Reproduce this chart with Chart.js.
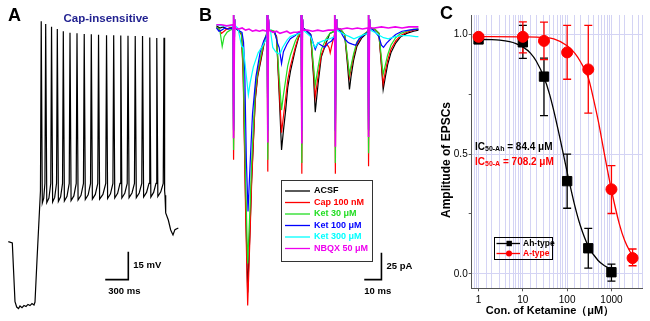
<!DOCTYPE html>
<html>
<head>
<meta charset="utf-8">
<script src="https://cdn.jsdelivr.net/npm/chart.js@4.4.1/dist/chart.umd.min.js"></script>
<style>
  html, body { margin: 0; padding: 0; background: #fff; }
  #wrap { position: relative; width: 650px; height: 321px; overflow: hidden; }
  canvas { position: absolute; top: 0; }
</style>
</head>
<body>
<div id="wrap">
  <canvas id="chartA" width="195" height="321" style="left:0"></canvas>
  <canvas id="chartB" width="237" height="321" style="left:195px"></canvas>
  <canvas id="chartC" width="218" height="321" style="left:432px"></canvas>
</div>
<script>
const COLORS = {
  black: "#000000",
  red: "#ff0000",
  green: "#22dd22",
  blue: "#0000ff",
  cyan: "#00ffff",
  magenta: "#ee00ee",
  navy: "#1f1f8f",
  grid: "#d4d4f4",
  axis: "#555555",
};

// ---------- panel A : membrane potential (ms, mV)
const TRACE_A = [
  [4, -77.5], [56, -78.2], [72, -92.8], [91, -109.9], [113, -112.8], [137, -113.6],
  [156, -112.2], [182, -113.1], [208, -112], [234, -112.5], [260, -111.4], [286, -112],
  [312, -110.9], [338, -111.7], [351, -110.1], [377, -87.4], [410, -60], [422, -50],
  // spike train: peak, AHP trough, mid ISI, pre-threshold
  [432, 41.5], [446, -56.6], [464, -54.1], [480, -46],
  [490, 40.1], [504, -56.4], [532, -53.9], [556, -46],
  [566, 38.6], [580, -56.1], [607, -53.6], [631, -46],
  [641, 37.3], [655, -55.8], [684, -53.3], [709, -46],
  [719, 36.1], [733, -55.5], [767, -53], [796, -46],
  [806, 35.3], [820, -55.3], [856, -52.8], [887, -46],
  [897, 35.0], [911, -55], [949, -52.5], [981, -46],
  [991, 34.6], [1005, -54.7], [1042, -52.2], [1073, -46],
  [1083, 34.5], [1097, -54.5], [1135, -52], [1167, -46],
  [1177, 34.3], [1191, -54.5], [1234, -52], [1271, -46],
  [1281, 33.9], [1295, -54.2], [1332, -51.7], [1364, -46],
  [1374, 34.0], [1388, -53.9], [1425, -51.4], [1456, -46],
  [1466, 33.8], [1480, -53.9], [1518, -51.4], [1550, -46],
  [1560, 33.7], [1574, -53.7], [1612, -51.2], [1644, -46],
  [1654, 33.6], [1668, -53.7], [1706, -51.2], [1739, -46],
  [1749, 33.6], [1763, -53.4], [1801, -50.9], [1833, -46],
  [1843, 32.7], [1857, -53.4], [1893, -50.9], [1924, -46],
  [1934, 32.5], [1948, -53.1], [1986, -50.6], [2018, -46],
  [2028, 32.6], [2036, -50], [2041, -52.5], [2050, -62], [2084, -65.8],
  [2115, -71.2], [2145, -73.9], [2170, -71], [2214, -70.1],
];
const SCALE_A = [[1264, -98], [1564, -98], [1564, -83]]; // 300 ms, 15 mV

// ---------- panel B : evoked EPSCs (ms, pA)
const LABELS_B = ["ACSF", "Cap 100 nM", "Ket 30 \u03bcM", "Ket 100 \u03bcM", "Ket 300 \u03bcM", "NBQX 50 \u03bcM"];
const COLORS_B = [COLORS.black, COLORS.red, COLORS.green, COLORS.blue, COLORS.cyan, COLORS.magenta];

const ACSF = [
  [0, 2], [2, 0], [4, 1], [6, -1], [8, 0], [9.7, 0],
  [9.8, 12], [10.2, -95], [10.6, 8], [11, 0],
  [12.5, -2], [14.6, -6], [15.6, -40], [17, -160], [18.2, -245], [19.6, -185], [20.5, -140],
  [22.6, -67], [24, -45], [25.9, -30], [27.8, -14], [29.4, -6],
  [29.5, 12], [29.9, -95], [30.3, 8], [30.7, -2],
  [32, -3], [33.5, -4], [35, -8], [36.5, -60], [37.9, -113], [39, -95], [40.3, -76],
  [41.5, -55], [43.1, -40], [45.9, -20], [47.8, -9], [49.2, -4],
  [49.3, 12], [49.7, -95], [50.1, 8], [50.5, 0],
  [52, -2], [54.8, -6], [56.5, -45], [57.5, -78], [59.2, -51], [61, -27], [63.8, -14], [66, -5], [68.7, -3],
  [68.8, 12], [69.2, -95], [69.6, 8], [70, 0],
  [72, -1], [74.6, -6], [76.3, -35], [77.4, -57], [78.3, -45], [79.8, -30], [81.7, -17], [84.6, -9], [87.4, -5], [88.2, -3],
  [88.3, 12], [88.7, -95], [89.1, 8], [89.5, 0],
  [92, -1], [94.5, -5], [96, -35], [97, -57], [98.3, -45], [99.6, -34], [101.5, -23], [104.3, -14],
  [107.2, -8], [110.7, -5], [114.7, -3], [117.5, -2],
];
const CAP_100 = [
  [0, 1], [1.8, -2], [3, -5], [4.5, -3], [6, -1], [8, 0], [9.7, -1],
  [9.8, 12], [10.2, -122], [10.6, 8], [11, 0],
  [12.5, -2], [14.6, -6], [15.6, -45], [17, -170], [18.2, -257], [19.6, -190], [20.5, -144],
  [22.6, -65], [24, -44], [25.9, -28], [27.8, -13], [29.4, -5],
  [29.5, 12], [29.9, -133], [30.3, 8], [30.7, -2],
  [32, -3], [33.5, -3], [35, -8], [36.5, -55], [37.9, -97], [39, -82], [40.3, -65],
  [41.5, -48], [43.1, -35], [45.9, -18], [47.8, -8], [49.2, -4],
  [49.3, 12], [49.7, -135], [50.1, 8], [50.5, 0],
  [52, -2], [54.8, -6], [56.5, -40], [57.5, -64], [59.2, -44], [61, -25], [63.8, -14],
  [65.5, -18], [66.2, -23], [67, -17], [68.7, -6],
  [68.8, 12], [69.2, -135], [69.6, 8], [70, 0],
  [72, -1], [74.6, -6], [76.3, -30], [77.4, -46], [78.3, -38], [79.8, -26], [81.7, -15], [84.6, -8], [87.4, -4], [88.2, -3],
  [88.3, 12], [88.7, -128], [89.1, 8], [89.5, 0],
  [92, -1], [94.5, -5], [96, -33], [97, -52], [98.3, -40], [99.6, -30], [101.5, -20], [104.3, -12],
  [107.2, -7], [110.7, -4], [114.7, -2], [117.5, -1],
];
const KET_30 = [
  [0, 1], [2, -2], [3.4, -17], [4.5, -8], [6.2, -4], [8, -2], [9.7, -1],
  [9.8, 12], [10.2, -113], [10.6, 8], [11, 0],
  [12.5, -2], [14.6, -5], [15.6, -35], [17, -140], [18.2, -218], [19.6, -165], [20.5, -125],
  [22.6, -58], [24, -40], [25.9, -25], [27.8, -12], [29.4, -4],
  [29.5, 12], [29.9, -122], [30.3, 8], [30.7, -2],
  [32, -2], [33.5, -3], [35, -10], [36.5, -45], [37.9, -76], [39, -62], [40.3, -48],
  [41.5, -35], [43.1, -25], [45.9, -12], [47.8, -6], [49.2, -3],
  [49.3, 12], [49.7, -125], [50.1, 8], [50.5, 0],
  [52, -2], [54.8, -6], [56.5, -35], [57.5, -53], [59.2, -36], [61, -20], [63.8, -10], [66, -5], [68.7, -3],
  [68.8, 12], [69.2, -125], [69.6, 8], [70, 0],
  [72, -1], [74.6, -6], [76.3, -28], [77.4, -43], [78.3, -35], [79.8, -24], [81.7, -13], [84.6, -7], [87.4, -4], [88.2, -2],
  [88.3, 12], [88.7, -116], [89.1, 8], [89.5, 0],
  [92, -1], [94.5, -5], [96, -28], [97, -43], [98.3, -34], [99.6, -25], [101.5, -16], [104.3, -9],
  [107.2, -5], [110.7, -3], [114.7, -1], [117.5, -1],
];
const KET_100 = [
  [0, 0], [1.5, -3], [3, -2], [5, 0], [7, -1], [9.7, 0],
  [9.8, 12], [10.2, -95], [10.6, 8], [11, 0],
  [12.5, -2], [14.9, -4], [15.8, -13], [16.5, -40], [17.4, -120], [18.4, -170], [19.8, -120],
  [21, -80], [23, -45], [25.5, -22], [27.5, -12], [29.4, -6],
  [29.5, 12], [29.9, -95], [30.3, 8], [30.7, -2],
  [32, -3], [34, -4], [35.5, -14], [36.5, -18], [37.9, -33], [39, -22], [41, -15], [43, -10], [45.9, -7], [48, -4], [49.2, -3],
  [49.3, 12], [49.7, -95], [50.1, 8], [50.5, 0],
  [52, -2], [54.8, -6], [56.5, -15], [57.5, -20], [59, -14], [61, -16], [63, -18], [65, -14], [67, -12], [68.7, -8],
  [68.8, 12], [69.2, -95], [69.6, 8], [70, 0],
  [72, -3], [74.6, -10], [76.3, -13], [77.4, -14], [79, -15], [81, -16], [83, -10], [86, -6], [88.2, -4],
  [88.3, 12], [88.7, -95], [89.1, 8], [89.5, 0],
  [92, -3], [94.5, -8], [96, -16], [97.2, -18], [99, -14], [101.5, -10], [104.3, -6], [108, -3], [112, -2], [117.5, -1],
];
const KET_300 = [
  [0, 3], [3, 2], [6, 2], [9.7, 2],
  [9.8, 12], [10.2, -95], [10.6, 8], [11, 2],
  [12.5, 0], [13.8, -10], [14.7, -17], [15.6, -18], [16.8, -35], [18.6, -62], [19.6, -51],
  [21.5, -36], [24.3, -23], [27.1, -16], [29.4, -9],
  [29.5, 12], [29.9, -95], [30.3, 8], [30.7, 0],
  [31.5, -3], [32.8, -18], [34.5, -22], [36, -24], [37.3, -23], [38.5, -18], [41.2, -11], [43, -8], [46, -6], [49.2, -5],
  [49.3, 12], [49.7, -95], [50.1, 8], [50.5, -2],
  [52, -4], [54.8, -8], [56.5, -15], [57.5, -18], [59, -14], [62, -12], [66, -10], [68.7, -8],
  [68.8, 12], [69.2, -95], [69.6, 8], [70, -2],
  [72, -4], [74.6, -6], [77.4, -8], [80, -10], [83, -8], [86, -6], [88.2, -5],
  [88.3, 12], [88.7, -95], [89.1, 8], [89.5, -2],
  [92, -4], [95, -7], [97.2, -9], [100, -10], [104, -8], [108, -7], [112, -7], [116, -8], [117.5, -8],
];
const NBQX_50 = [
  [0, 3], [3, 3], [6, 2], [9.7, 3],
  [9.8, 12], [10.2, -102], [10.6, 8], [11, 0],
  [13, -1], [15, 0], [17, -2], [19, -1], [21, -3], [23, -2], [25, -3], [27, -2], [29.4, -3],
  [29.5, 12], [29.9, -106], [30.3, 8], [30.7, -2],
  [33, -4], [35, -3], [37, -5], [39, -4], [41, -3], [43, -5], [45, -4], [47, -4], [49.2, -3],
  [49.3, 12], [49.7, -107], [50.1, 8], [50.5, -2],
  [53, -2], [56, -3], [59, -2], [62, -3], [65, -2], [68.7, -2],
  [68.8, 12], [69.2, -110], [69.6, 8], [70, -1],
  [73, -1], [76, 0], [79, -1], [82, 0], [85, -1], [88.2, 0],
  [88.3, 12], [88.7, -101], [89.1, 8], [89.5, 0],
  [92, 0], [96, 1], [100, 0], [104, 1], [108, 0], [112, 1], [117.5, 1],
];
const TRACES_B = [ACSF, CAP_100, KET_30, KET_100, KET_300, NBQX_50];
const SCALE_B = [[86, -233], [96, -233], [96, -208]]; // 10 ms, 25 pA

// ---------- panel C : concentration-response
const AH_CONC = [1, 10, 30, 100, 300, 1000];
const AH_MEAN = [0.978, 0.966, 0.823, 0.387, 0.107, 0.007];
const AH_HI = [0.978, 1.037, 0.9, 0.5, 0.19, 0.041];
const AH_LO = [0.978, 0.899, 0.66, 0.274, 0.024, -0.03];

const A_CONC = [1, 10, 30, 100, 300, 1000, 3000];
const A_MEAN = [0.989, 0.989, 0.972, 0.924, 0.853, 0.353, 0.066];
const A_HI = [0.989, 1.051, 1.05, 1.037, 1.037, 0.452, 0.104];
const A_LO = [0.989, 0.922, 0.894, 0.812, 0.671, 0.252, 0.034];

const FIT_AH_X = [1, 2, 3, 5, 7, 10, 15, 20, 30, 40, 50, 70, 100, 150, 200, 300, 500, 700, 1000];
const FIT_AH_Y = [0.978, 0.977, 0.975, 0.969, 0.961, 0.947, 0.92, 0.888, 0.82, 0.75, 0.68, 0.56, 0.425, 0.282, 0.2, 0.116, 0.056, 0.034, 0.019];
const FIT_A_X = [1, 10, 30, 50, 100, 150, 200, 300, 400, 500, 700, 1000, 1500, 2000, 3000];
const FIT_A_Y = [0.99, 0.989, 0.986, 0.98, 0.952, 0.92, 0.885, 0.818, 0.724, 0.641, 0.497, 0.35, 0.21, 0.138, 0.073];

const Y_TICKS_C = [0, 0.25, 0.5, 0.75, 1.0];
const X_LABELS_C = [1, 10, 100, 1000];

Chart.defaults.font.family = "Arial, 'Liberation Sans', sans-serif";
Chart.defaults.color = COLORS.black;

const zip = (xs, ys) => xs.map((x, i) => [x, ys[i]]);

const drawText = (ctx, text, x, y, font, color, align = "left") => {
  ctx.save();
  ctx.font = font;
  ctx.fillStyle = color;
  ctx.textAlign = align;
  ctx.textBaseline = "middle";
  ctx.fillText(text, x, y);
  ctx.restore();
};

// hidden axes, chart area == canvas
const traceOptions = (xmin, xmax, ymin, ymax) => ({
  responsive: false,
  animation: false,
  layout: { padding: 0 },
  elements: { point: { radius: 0 }, line: { tension: 0 } },
  plugins: { legend: { display: false }, tooltip: { enabled: false } },
  scales: {
    x: { type: "linear", display: false, min: xmin, max: xmax },
    y: { type: "linear", display: false, min: ymin, max: ymax },
  },
});

// ---------- A
new Chart(document.getElementById("chartA"), {
  type: "line",
  data: {
    datasets: [
      { data: TRACE_A, borderColor: COLORS.black, borderWidth: 1.2 },
      { data: SCALE_A, borderColor: COLORS.black, borderWidth: 1.6 },
    ],
  },
  options: traceOptions(-104, 2431, -120.34, 53),
  plugins: [{
    id: "textA",
    afterDraw: (chart) => {
      const { ctx, scales: { x, y } } = chart;
      drawText(ctx, "A", 8, 16, "bold 18px Arial", COLORS.black);
      drawText(ctx, "Cap-insensitive", 106, 19, "bold 11.5px Arial", COLORS.navy, "center");
      const bx = x.getPixelForValue(SCALE_A[1][0]);
      const by = y.getPixelForValue(SCALE_A[1][1]);
      const ty = y.getPixelForValue(SCALE_A[2][1]);
      drawText(ctx, "15 mV", bx + 5, (by + ty) / 2, "bold 9.5px Arial", COLORS.black);
      drawText(ctx, "300 ms", x.getPixelForValue(SCALE_A[0][0]) + 3, by + 12, "bold 9.5px Arial", COLORS.black);
    },
  }],
});

// ---------- B
const datasetsB = TRACES_B.map((trace, i) => ({
  data: trace,
  borderColor: COLORS_B[i],
  borderWidth: i === 5 ? 1.6 : 1.2,
  order: TRACES_B.length - i, // magenta on top
}));
datasetsB.push({ data: SCALE_B, borderColor: COLORS.black, borderWidth: 1.6, order: 0 });

new Chart(document.getElementById("chartB"), {
  type: "line",
  data: { datasets: datasetsB },
  options: traceOptions(-12.43, 125.4, -271.3, 25.9),
  plugins: [{
    id: "textB",
    afterDraw: (chart) => {
      const { ctx, scales: { x, y } } = chart;
      drawText(ctx, "B", 4, 16, "bold 18px Arial", COLORS.black);

      // legend box
      ctx.save();
      ctx.strokeStyle = "#333";
      ctx.lineWidth = 1;
      ctx.strokeRect(86.5, 180.5, 91, 81);
      LABELS_B.forEach((label, i) => {
        const ly = 191 + i * 11.5;
        ctx.strokeStyle = COLORS_B[i];
        ctx.lineWidth = 1.3;
        ctx.beginPath();
        ctx.moveTo(90, ly);
        ctx.lineTo(115, ly);
        ctx.stroke();
        drawText(ctx, label, 119, ly, "bold 9px Arial", COLORS_B[i]);
      });
      ctx.restore();

      const bx = x.getPixelForValue(SCALE_B[1][0]);
      const by = y.getPixelForValue(SCALE_B[1][1]);
      const ty = y.getPixelForValue(SCALE_B[2][1]);
      drawText(ctx, "25 pA", bx + 5, (by + ty) / 2, "bold 9.5px Arial", COLORS.black);
      drawText(ctx, "10 ms", x.getPixelForValue(SCALE_B[0][0]), by + 12, "bold 9.5px Arial", COLORS.black);
    },
  }],
});

// ---------- C
const ERROR_SETS = [
  { conc: AH_CONC, hi: AH_HI, lo: AH_LO, color: COLORS.black },
  { conc: A_CONC, hi: A_HI, lo: A_LO, color: COLORS.red },
];

const errorBarPlugin = {
  id: "errorBars",
  beforeDatasetsDraw: (chart) => {
    const { ctx, scales: { x, y } } = chart;
    ctx.save();
    ctx.lineWidth = 1.3;
    ERROR_SETS.forEach(({ conc, hi, lo, color }) => {
      ctx.strokeStyle = color;
      conc.forEach((c, i) => {
        if (hi[i] === lo[i]) return;
        const px = x.getPixelForValue(c);
        const top = y.getPixelForValue(hi[i]);
        const bot = y.getPixelForValue(lo[i]);
        ctx.beginPath();
        ctx.moveTo(px, top);
        ctx.lineTo(px, bot);
        ctx.moveTo(px - 4, top);
        ctx.lineTo(px + 4, top);
        ctx.moveTo(px - 4, bot);
        ctx.lineTo(px + 4, bot);
        ctx.stroke();
      });
    });
    ctx.restore();
  },
};

const textCPlugin = {
  id: "textC",
  afterDraw: (chart) => {
    const { ctx } = chart;
    drawText(ctx, "C", 8, 14, "bold 18px Arial", COLORS.black);

    // axis titles
    ctx.save();
    ctx.translate(15, 160);
    ctx.rotate(-Math.PI / 2);
    drawText(ctx, "Amplitude of EPSCs", 0, 0, "bold 12px Arial", COLORS.black, "center");
    ctx.restore();
    drawText(ctx, "Con. of Ketamine\uff08\u03bcM\uff09", 118, 311, "bold 11px Arial", COLORS.black, "center");

    // IC50 annotations
    const ic50 = (sub, rest, yPos, color) => {
      ctx.save();
      ctx.fillStyle = color;
      ctx.textBaseline = "alphabetic";
      let cx = 43;
      ctx.font = "bold 10px Arial";
      ctx.fillText("IC", cx, yPos + 3.5);
      cx += ctx.measureText("IC").width;
      ctx.font = "bold 7px Arial";
      ctx.fillText(sub, cx, yPos + 4.5);
      cx += ctx.measureText(sub).width;
      ctx.font = "bold 10px Arial";
      ctx.fillText(rest, cx, yPos + 3.5);
      ctx.restore();
    };
    ic50("50-Ah", " = 84.4 \u03bcM", 146, COLORS.black);
    ic50("50-A", " = 708.2 \u03bcM", 161.7, COLORS.red);

    // legend
    ctx.save();
    ctx.strokeStyle = COLORS.black;
    ctx.lineWidth = 1;
    ctx.strokeRect(62.5, 237.5, 58, 22);
    [[COLORS.black, "Ah-type", 243.5], [COLORS.red, "A-type", 253.5]].forEach(([color, label, ly], i) => {
      ctx.strokeStyle = color;
      ctx.fillStyle = color;
      ctx.lineWidth = 1.3;
      ctx.beginPath();
      ctx.moveTo(64.5, ly);
      ctx.lineTo(88, ly);
      ctx.stroke();
      ctx.beginPath();
      if (i === 0) ctx.rect(74.5, ly - 2.7, 5.4, 5.4);
      else ctx.arc(77, ly, 3, 0, Math.PI * 2);
      ctx.fill();
      drawText(ctx, label, 91, ly, "bold 8.5px Arial", color);
    });
    ctx.restore();
  },
};

const isLabelTick = (v) => X_LABELS_C.some((t) => Math.abs(v - t) < 1e-6 * t);

new Chart(document.getElementById("chartC"), {
  type: "line",
  data: {
    datasets: [
      { data: zip(A_CONC, A_MEAN), showLine: false, pointStyle: "circle", pointRadius: 5.5,
        backgroundColor: COLORS.red, borderColor: COLORS.red, order: 0 },
      { data: zip(AH_CONC, AH_MEAN), showLine: false, pointStyle: "rect", pointRadius: 6.6,
        backgroundColor: COLORS.black, borderColor: COLORS.black, order: 1 },
      { data: zip(FIT_A_X, FIT_A_Y), borderColor: COLORS.red, borderWidth: 1.3, pointRadius: 0,
        cubicInterpolationMode: "monotone", order: 2 },
      { data: zip(FIT_AH_X, FIT_AH_Y), borderColor: COLORS.black, borderWidth: 1.3, pointRadius: 0,
        cubicInterpolationMode: "monotone", order: 3 },
    ],
  },
  options: {
    responsive: false,
    animation: false,
    layout: { padding: { top: 15, right: 4, left: 0, bottom: 0 } },
    plugins: { legend: { display: false }, tooltip: { enabled: false } },
    scales: {
      x: {
        type: "logarithmic",
        min: 0.7,
        max: 5000,
        afterFit: (scale) => { scale.height = 32.7; },
        grid: {
          color: COLORS.grid,
          lineWidth: 1,
          tickLength: 3,
          tickColor: (c) => (c.tick && isLabelTick(c.tick.value) ? COLORS.axis : "transparent"),
        },
        border: { color: COLORS.axis, width: 1 },
        ticks: {
          autoSkip: false,
          maxRotation: 0,
          padding: 3,
          font: { size: 10 },
          color: COLORS.black,
          callback: (v) => (isLabelTick(v) ? String(Math.round(v)) : ""),
        },
      },
      y: {
        type: "linear",
        min: -0.06,
        max: 1.08,
        afterFit: (scale) => { scale.width = 39.7; },
        afterBuildTicks: (scale) => { scale.ticks = Y_TICKS_C.map((value) => ({ value })); },
        grid: {
          color: (c) => (c.tick && c.tick.value % 0.5 === 0 ? COLORS.grid : "transparent"),
          lineWidth: 1,
          tickLength: 3,
          tickColor: COLORS.axis,
        },
        border: { color: COLORS.axis, width: 1 },
        ticks: {
          padding: 1,
          font: { size: 10 },
          color: COLORS.black,
          callback: (v) => (v % 0.5 === 0 ? v.toFixed(1) : ""),
        },
      },
    },
  },
  plugins: [errorBarPlugin, textCPlugin],
});
</script>
</body>
</html>
